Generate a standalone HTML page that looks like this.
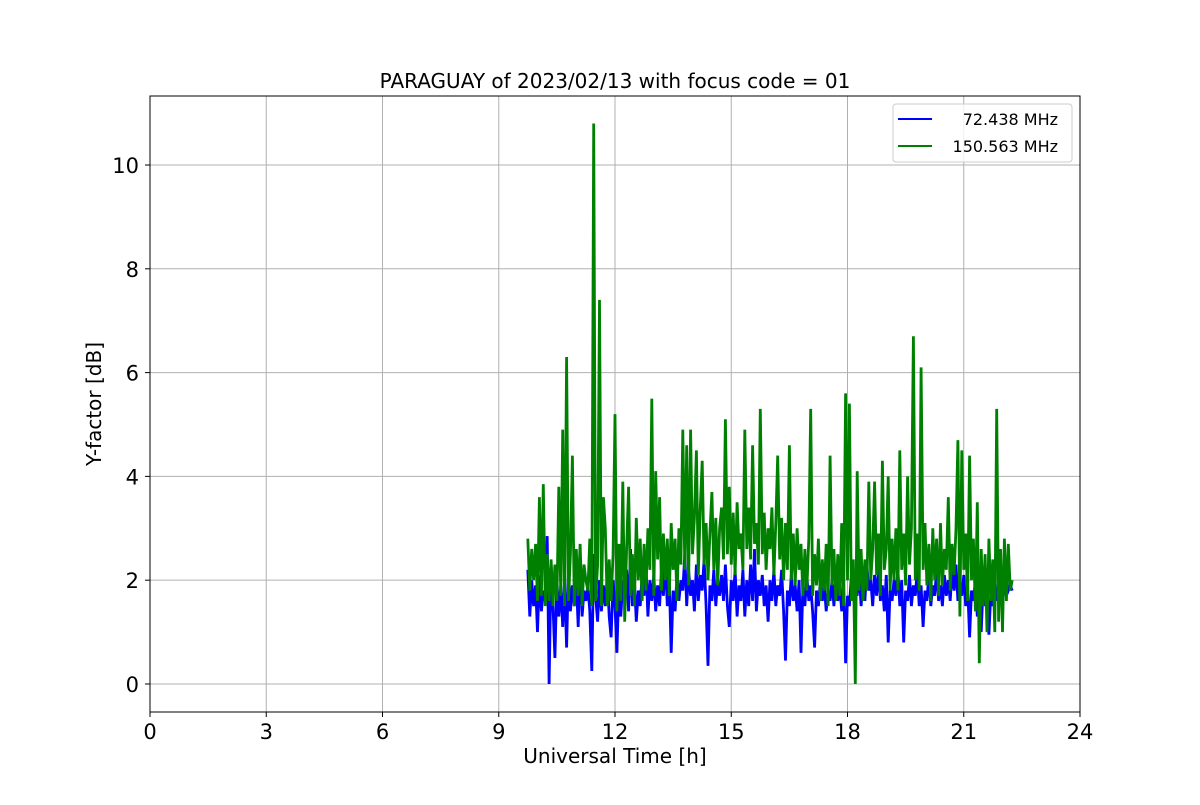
<!DOCTYPE html>
<html><head><meta charset="utf-8"><style>
body{margin:0;background:#fff;font-family:"Liberation Sans","DejaVu Sans",sans-serif}
</style></head><body>
<svg id="chart" width="1200" height="800" xmlns="http://www.w3.org/2000/svg" font-family="DejaVu Sans, Liberation Sans, sans-serif"></svg>
<script>
const xTicks=[0,3,6,9,12,15,18,21,24];
const yTicks=[0,2,4,6,8,10];
const seriesNames=["72.438 MHz","150.563 MHz"];
const tStart=9.75, tStep=0.05;
const blueVals=[2.2,1.3,2.0,1.5,1.9,1.0,2.1,1.4,1.8,1.6,
2.85,0.0,2.3,1.5,0.5,2.0,1.3,1.9,1.1,2.0,
0.7,2.2,1.4,1.9,1.5,2.0,1.1,2.4,1.3,1.8,
1.6,1.9,1.4,0.25,2.5,1.7,1.2,2.0,1.4,1.9,
1.5,2.1,1.3,0.9,2.0,1.5,0.6,1.9,1.3,2.0,
1.6,2.2,1.4,2.6,1.5,2.0,1.2,1.8,1.5,2.1,
1.7,2.3,1.3,2.0,1.6,2.1,1.4,1.9,1.5,2.2,
1.7,2.4,1.5,2.0,0.6,1.8,1.4,2.1,1.6,2.0,
1.8,2.5,1.5,2.2,1.7,2.0,1.4,2.3,1.6,2.1,
1.8,2.4,1.5,0.35,1.9,1.6,2.2,1.5,2.0,1.7,
2.1,1.6,2.3,1.5,1.1,2.0,1.6,2.2,1.3,1.9,
1.6,2.2,1.3,2.0,1.5,2.3,1.6,2.6,1.4,2.0,
1.7,2.1,1.5,1.9,1.2,2.0,1.6,2.2,1.5,1.9,
1.7,2.2,1.4,0.45,1.8,1.5,2.1,1.6,1.9,1.4,
2.0,0.6,1.9,1.5,2.1,1.6,1.9,1.4,0.7,1.8,
1.5,2.0,1.6,1.9,1.4,1.8,1.6,2.0,1.5,2.1,
1.6,1.9,1.4,2.0,0.4,1.7,1.5,2.1,1.6,1.9,
1.7,2.2,1.5,2.0,1.6,2.3,1.8,2.0,1.5,2.1,
1.7,2.2,1.6,1.9,1.4,2.1,0.8,1.8,1.6,2.0,
1.7,2.2,1.5,2.0,0.8,1.8,1.6,2.1,1.5,1.9,
1.7,2.2,1.5,1.9,1.1,1.8,1.6,2.1,1.5,1.9,
1.7,2.2,1.6,1.9,1.5,2.1,1.7,2.0,1.6,2.2,
1.8,2.3,1.6,2.0,1.7,2.1,1.5,1.9,0.9,1.8,
1.6,2.0,1.3,1.8,1.0,1.9,1.5,1.7,0.95,1.8,
1.5,1.9,1.6,2.0,1.7,1.9,1.8,2.0,1.8,1.9,
1.8];
const greenVals=[2.8,1.8,2.6,2.0,2.7,1.6,3.6,1.7,3.85,1.5,
2.5,1.6,2.4,1.5,2.3,1.6,3.8,1.7,4.9,1.5,
6.3,1.6,2.5,4.4,1.5,2.6,1.7,2.7,1.5,2.3,
2.0,1.8,2.8,1.5,10.8,1.6,2.3,7.4,1.5,3.6,
3.0,1.5,2.4,1.6,2.5,5.2,1.4,2.7,1.6,3.9,
1.2,2.6,3.8,1.7,2.5,1.5,3.2,2.0,2.8,1.6,
2.7,1.8,3.0,2.2,5.5,1.7,4.1,2.4,3.6,1.8,
2.9,2.0,2.8,1.7,3.1,2.2,2.8,1.6,3.0,2.3,
4.9,2.2,4.6,1.9,4.9,2.5,3.2,4.5,2.1,3.4,
4.3,2.3,3.1,2.0,2.9,3.7,2.2,3.2,1.9,3.0,
3.4,2.4,5.1,2.5,3.8,2.3,3.3,2.1,3.5,2.6,
2.9,2.2,4.9,2.6,3.4,2.4,4.6,2.7,3.1,2.3,
5.3,2.5,3.3,2.2,3.0,2.6,3.4,2.1,3.1,4.4,
2.4,3.2,2.0,3.1,2.2,4.6,2.0,2.9,1.9,3.0,
2.2,2.7,1.7,2.6,1.8,2.8,5.3,1.7,2.5,1.9,
2.8,1.6,2.4,1.8,2.7,1.5,4.4,1.9,2.6,1.6,
2.5,1.7,3.1,1.5,5.6,2.0,5.4,1.6,2.4,0.0,
4.1,1.8,2.6,1.6,2.4,1.8,3.9,2.0,2.6,3.9,
2.1,2.9,1.7,4.3,2.2,2.6,4.0,1.8,2.8,2.0,
3.0,1.8,4.5,2.2,2.9,1.9,4.0,2.3,3.0,6.7,
2.0,2.9,1.8,6.1,2.2,3.1,1.9,2.7,1.6,3.0,
2.0,2.8,1.7,3.1,1.9,2.6,2.2,3.6,1.8,2.7,
2.1,3.0,4.7,1.3,4.5,2.2,2.9,1.6,4.4,2.0,
2.8,1.4,3.5,0.4,2.6,1.5,2.5,1.0,2.8,1.6,
2.4,1.0,5.3,1.2,2.6,1.0,2.8,1.6,2.7,1.8,
2.0];
const svg=document.getElementById('chart');
const NS='http://www.w3.org/2000/svg';
const L=150,R=1080,T=96,B=712;
const xMin=0,xMax=24,yMin=-0.54,yMax=11.33;
const sx=v=>L+(v-xMin)/(xMax-xMin)*(R-L);
const sy=v=>B-(v-yMin)/(yMax-yMin)*(B-T);
function mk(tag,attrs,parent){const e=document.createElementNS(NS,tag);for(const k in attrs)e.setAttribute(k,attrs[k]);(parent||svg).appendChild(e);return e;}
const grid=mk('g',{});


xTicks.forEach(t=>{
  const l=mk('line',{x1:sx(t),x2:sx(t),y1:T,y2:B,stroke:'#b0b0b0','stroke-width':1},grid);
  
  
  const tk=mk('line',{x1:sx(t),x2:sx(t),y1:B,y2:B+5,stroke:'#000'});
  
  
  const tx=mk('text',{x:sx(t),y:B+27,'font-size':21,'text-anchor':'middle'});
  tx.textContent=t;
  
  
});
yTicks.forEach(t=>{
  const l=mk('line',{x1:L,x2:R,y1:sy(t),y2:sy(t),stroke:'#b0b0b0','stroke-width':1},grid);
  
  
  const tk=mk('line',{x1:L-5,x2:L,y1:sy(t),y2:sy(t),stroke:'#000'});
  
  
  const tx=mk('text',{x:L-11,y:sy(t)+8,'font-size':21,'text-anchor':'end'});
  tx.textContent=t;
  
  
});
function series(vals,color,name){
  const pts=vals.map((v,i)=>sx(tStart+i*tStep).toFixed(1)+','+sy(v).toFixed(1)).join(' ');
  const p=mk('polyline',{points:pts,fill:'none',stroke:color,'stroke-width':2.8,'stroke-linejoin':'miter'});
  
  
}
series(blueVals,'#0000ff','series-72mhz');
series(greenVals,'#008000','series-150mhz');
const frame=mk('rect',{x:L,y:T,width:R-L,height:B-T,fill:'none',stroke:'#000','stroke-width':1});


const title=mk('text',{x:615,y:88,'font-size':20,'text-anchor':'middle'});
title.textContent='PARAGUAY of 2023/02/13 with focus code = 01';


const xl=mk('text',{x:615,y:763,'font-size':20,'text-anchor':'middle'});
xl.textContent='Universal Time [h]';


const yl=mk('text',{x:0,y:0,'font-size':20,'text-anchor':'middle',transform:'translate(101,404) rotate(-90)'});
yl.textContent='Y-factor [dB]';


const lg=mk('g',{});


mk('rect',{x:893,y:104,width:179,height:58,rx:3,fill:'#fff','fill-opacity':0.8,stroke:'#ccc'},lg);
const cols=['#0000ff','#008000'];
seriesNames.forEach((n,i)=>{
  const y=119+i*27;
  const ln=mk('line',{x1:898,x2:932,y1:y,y2:y,stroke:cols[i],'stroke-width':2},lg);
  
  
  const tx=mk('text',{x:1058,y:y+6,'font-size':16,'text-anchor':'end'},lg);
  tx.textContent=n;
  
  
});
</script>
</body></html>
